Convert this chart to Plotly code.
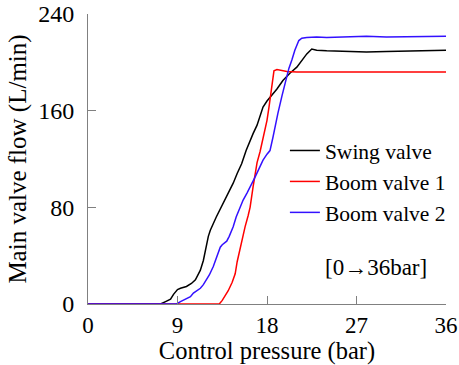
import plotly.graph_objects as go

# Swing valve
swing_x = [0, 7.3, 7.8, 8.3, 8.6, 9.0, 9.3, 9.9, 10.4, 10.8, 11.3, 11.6, 12.1, 12.3, 12.9, 13.4, 13.8,
           14.2, 14.6, 15.0, 15.45, 15.9, 16.3, 16.6, 17.0, 17.3, 17.6, 18.0, 18.6, 19.0, 19.6,
           20.3, 21.0, 21.5, 22.0, 22.5, 23, 24, 26, 28, 30, 32, 34, 36]
swing_y = [0, 0, 2, 4, 8, 12, 13, 14.5, 17, 20, 28, 36, 56, 61, 72, 80, 86,
           93, 100, 108, 116, 127, 136, 141, 148, 155, 163, 168, 174, 178, 185,
           191, 196, 202, 207, 211, 210, 209.5, 209, 208.5, 209, 209.5, 209.5, 210]

# Boom valve 1
boom1_x = [0, 13.2, 13.5, 14.1, 14.5, 14.8, 15.0, 15.3, 15.6, 15.8, 16.1, 16.3, 16.6, 16.8, 17.0,
           17.3, 17.5, 17.8, 18.0, 18.2, 18.4, 18.55, 18.7, 19.0, 19.5, 20, 21, 22, 24, 26, 28,
           30, 32, 34, 36]
boom1_y = [0, 0, 3, 11, 18, 25, 35, 47, 58, 64, 73, 80, 97, 106, 117,
           126, 133, 143, 152, 163, 174, 186, 193, 194, 193, 192.5, 192, 192, 192, 191.5, 192,
           191.5, 192, 192, 192]

# Boom valve 2
boom2_x = [0, 8.9, 9.3, 9.8, 10.3, 10.6, 10.9, 11.3, 11.6, 11.9, 12.2, 12.6, 12.9, 13.3, 13.5,
           13.95, 14.2, 14.6, 14.9, 15.3, 15.6, 16.0, 16.4, 16.8, 17.2, 17.6, 18.0, 18.3, 18.6,
           18.8, 19.1, 19.5, 19.9, 20.2, 20.5, 20.8, 21.2, 21.5, 22, 23, 24, 26, 28, 30, 32, 34, 36]
boom2_y = [0, 0, 2, 4, 6, 9, 11, 13, 16, 20, 24, 31, 38, 47, 49,
           52, 56, 64, 72, 80, 86, 92, 98, 105, 112, 119, 124, 127, 138,
           147, 158, 172, 186, 195, 202, 210, 218, 220, 220.5, 221, 220.5, 221, 221.5, 221, 221, 221.5, 221.5]

x_ticks = [0, 9, 18, 27, 36]
y_ticks = [0, 80, 160, 240]

FONT = "Liberation Serif"
AX = "#808080"

fig = go.Figure()
fig.add_trace(go.Scatter(x=swing_x, y=swing_y, mode="lines", name="Swing valve",
                         line=dict(color="#000000", width=1.5)))
fig.add_trace(go.Scatter(x=boom1_x, y=boom1_y, mode="lines", name="Boom valve 1",
                         line=dict(color="#ff0000", width=1.5)))
fig.add_trace(go.Scatter(x=boom2_x, y=boom2_y, mode="lines", name="Boom valve 2",
                         line=dict(color="#3311ff", width=1.5)))

fig.update_layout(
    width=459, height=365,
    margin=dict(l=88, r=13, t=14, b=61, autoexpand=False),
    paper_bgcolor="white", plot_bgcolor="white",
    font=dict(family=FONT, color="black", size=22),
    showlegend=True,
    legend=dict(x=0.55, y=0.60, xanchor="left", yanchor="top",
                bgcolor="rgba(0,0,0,0)", font=dict(size=21.5, family=FONT),
                tracegroupgap=0, itemwidth=30),
    xaxis=dict(range=[0, 36], tickvals=x_ticks, ticktext=[str(v) for v in x_ticks],
               showgrid=False, zeroline=False, showline=True, linecolor=AX, linewidth=1,
               ticks="inside", ticklen=8, tickcolor=AX, tickfont=dict(size=23),
               automargin=False, ticklabelstandoff=0,
               title=dict(text="Control pressure (bar)", font=dict(size=24.5), standoff=2)),
    yaxis=dict(range=[0, 240], tickvals=y_ticks, ticktext=[str(v) for v in y_ticks],
               showgrid=False, zeroline=False, showline=True, linecolor=AX, linewidth=1,
               ticks="inside", ticklen=8, tickcolor=AX, tickfont=dict(size=24),
               automargin=False, ticklabelstandoff=8,
               title=dict(text="Main valve flow (L/min)", font=dict(size=25), standoff=4)),
    annotations=[dict(text="[0→36bar]", x=23.6, y=29.8, xref="x", yref="y",
                      xanchor="left", yanchor="middle", showarrow=False,
                      font=dict(size=23, family=FONT))],
)

fig.write_html("out.html")
